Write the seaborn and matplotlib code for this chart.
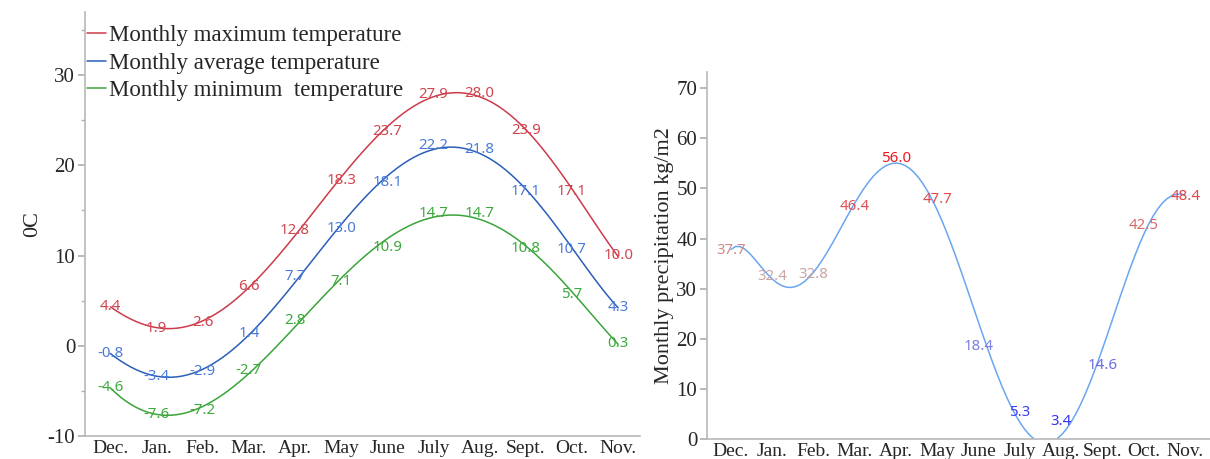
import numpy as np
import pandas as pd
import matplotlib
matplotlib.use("Agg")
import matplotlib.pyplot as plt
from matplotlib.colors import LinearSegmentedColormap, Normalize
import seaborn as sns

# chart data
months = ["Dec.", "Jan.", "Feb.", "Mar.", "Apr.", "May", "June", "July", "Aug.", "Sept.", "Oct.", "Nov."]
t_max = [4.4, 1.9, 2.6, 6.6, 12.8, 18.3, 23.7, 27.9, 28.0, 23.9, 17.1, 10.0]
t_avg = [-0.8, -3.4, -2.9, 1.4, 7.7, 13.0, 18.1, 22.2, 21.8, 17.1, 10.7, 4.3]
t_min = [-4.6, -7.6, -7.2, -2.7, 2.8, 7.1, 10.9, 14.7, 14.7, 10.8, 5.7, 0.3]
precip = [37.7, 32.4, 32.8, 46.4, 56.0, 47.7, 18.4, 5.3, 3.4, 14.6, 42.5, 48.4]

series_names = ["Monthly maximum temperature", "Monthly average temperature", "Monthly minimum  temperature"]

sns.set_theme(style="ticks")
plt.rcParams["axes.unicode_minus"] = False
serif = ["Liberation Serif", "DejaVu Serif"]
sans = ["Noto Sans", "DejaVu Sans"]

df = pd.DataFrame({"x": np.arange(len(months)), "max": t_max, "avg": t_avg, "min": t_min, "precip": precip})

fig = plt.figure(figsize=(12.10, 4.59), dpi=100)
ax1 = fig.add_axes([0.0702, 0.050, 0.459, 0.924])
ax2 = fig.add_axes([0.5843, 0.0435, 0.4157, 0.7995])

line_cols = ["#cc3b4a", "#2a5fb8", "#3aa43a"]
text_cols = ["#d0464f", "#4a7bd8", "#3caa3c"]

# smooth fitted curves + value labels at the data values
handles = []
for col, name, lc, tc in zip(["max", "avg", "min"], series_names, line_cols, text_cols):
    sns.regplot(data=df, x="x", y=col, order=5, ci=None, scatter=False, truncate=True, label=name,
                line_kws={"color": lc, "lw": 1.1}, ax=ax1)
    handles.append(ax1.lines[-1])
    for i, v in enumerate(df[col]):
        ax1.text(i, v, f"{v:.1f}", color=tc, ha="center", va="center", fontsize=10.8, family=sans)

ax1.set_xlim(-0.55, 11.48)
ax1.set_ylim(-10, 37)
ax1.set_yticks([-10, 0, 10, 20, 30])
ax1.set_yticks([-5, 5, 15, 25, 35], minor=True)
ax1.set_ylabel("0C", fontsize=16, family=serif, labelpad=4)
ax1.set_xlabel("")
ax1.legend(handles, series_names, loc="upper left", bbox_to_anchor=(0.0036, 0.969), frameon=False,
           handlelength=0.85, handletextpad=0.1, labelspacing=0.28, borderaxespad=0, borderpad=0,
           prop={"family": serif, "size": 16.5})

cmap = LinearSegmentedColormap.from_list("prec", [(0.0, "#2424f5"), (0.33, "#7e7ee0"), (0.58, "#c9a6a6"),
                                                  (0.72, "#d97878"), (1.0, "#ec1620")])
norm = Normalize(0, 56)
sns.regplot(data=df, x="x", y="precip", order=7, ci=None, scatter=False, truncate=True,
            line_kws={"color": "#6aa6f0", "lw": 1.1}, ax=ax2)
for i, v in enumerate(precip):
    ax2.text(i, v, f"{v:.1f}", color=cmap(norm(v)), ha="center", va="center", fontsize=10.8, family=sans)

ax2.set_xlim(-0.58, 11.6)
ax2.set_ylim(0, 73.2)
ax2.set_yticks(range(0, 71, 10))
ax2.set_ylabel("Monthly precipitation kg/m2", fontsize=16, family=serif, labelpad=1.7)
ax2.set_xlabel("")

for ax in (ax1, ax2):
    sns.despine(ax=ax)
    ax.set_xticks(range(len(months)))
    ax.set_xticklabels(months, family=serif, fontsize=14)
    for lab in ax.get_yticklabels():
        lab.set_family(serif)
        lab.set_fontsize(15)
    ax.tick_params(axis="x", length=0, pad=3)
    ax.tick_params(axis="y", which="major", length=5, color="#b0b0b0", pad=2)
    ax.tick_params(axis="y", which="minor", length=3, color="#b0b0b0")
    for s in ("left", "bottom"):
        ax.spines[s].set_color("#b8b8b8")
        ax.spines[s].set_linewidth(1.2)
    ax.grid(False)

plt.savefig("out.png", dpi=100)
plt.close()
